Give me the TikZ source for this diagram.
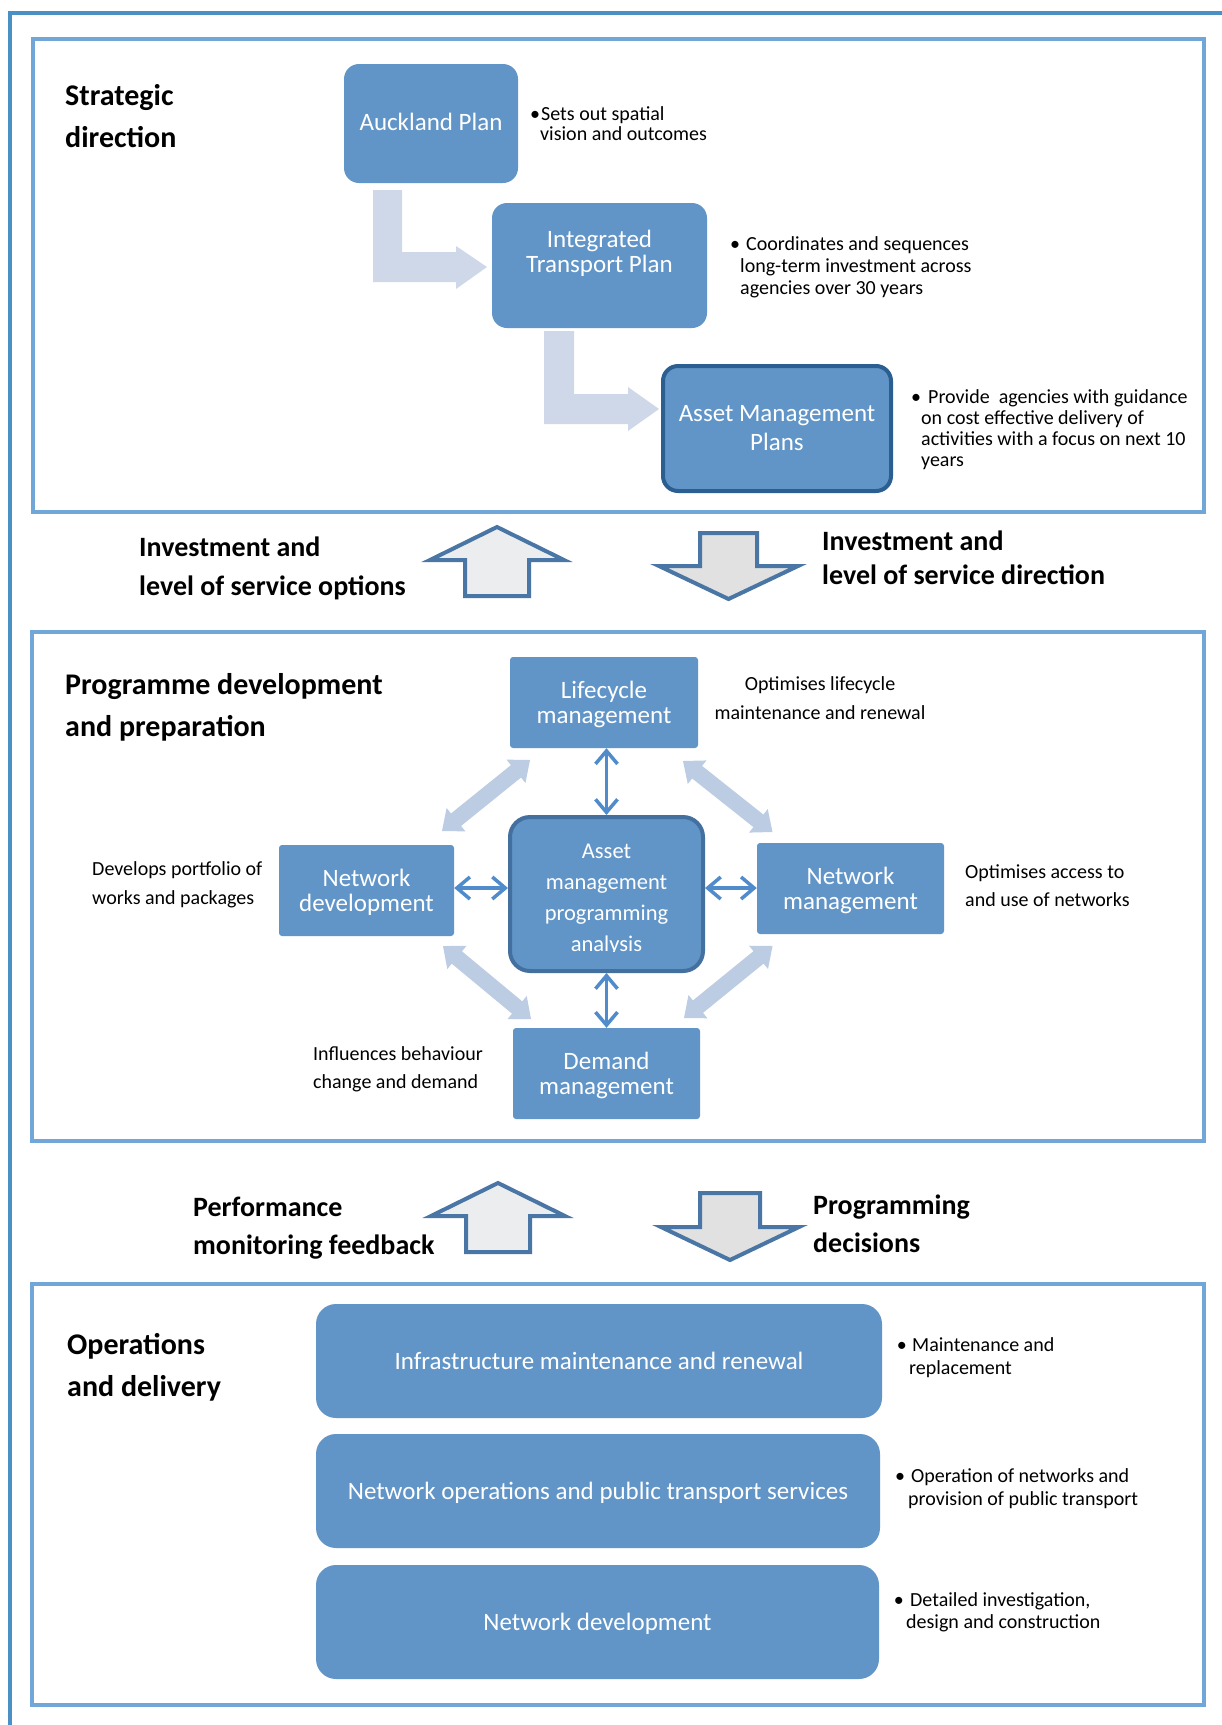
\documentclass[tikz,border=0pt]{standalone}
\usepackage{fontspec}
\setmainfont{Carlito}
\usetikzlibrary{arrows.meta,calc}

\definecolor{framedark}{RGB}{74,144,196}
\definecolor{framelight}{RGB}{112,166,216}
\definecolor{boxfill}{RGB}{97,149,200}
\definecolor{boxedge}{RGB}{44,95,145}
\definecolor{hubedge}{RGB}{68,112,160}
\definecolor{linkblue}{RGB}{80,139,204}
\definecolor{diagfill}{RGB}{188,204,227}
\definecolor{bendfill}{RGB}{207,216,232}
\definecolor{flowedge}{RGB}{74,118,166}
\definecolor{upfill}{RGB}{236,237,239}
\definecolor{downfill}{RGB}{225,225,225}

% bullet hanging to the left of the first line: #1 = bullet offset, #2 = gap to text
\newcommand\notebullet[2]{\hspace*{-#1pt}\makebox[0pt]{\textbullet}\hspace*{#2pt}}
% a line whose descenders do not count for vertical centring
\newcommand\nodepth[1]{\raisebox{0pt}[\height][0pt]{#1}}

% light double-headed block arrow between two tip points
\newcommand\pairarrow[2]{%
  \fill[diagfill] (#1)
    -- ($(#1)!18pt!(#2)!15pt!90:(#2)$)
    -- ($(#1)!18pt!(#2)!8pt!90:(#2)$)
    -- ($(#2)!18pt!(#1)!8pt!-90:(#1)$)
    -- ($(#2)!18pt!(#1)!15pt!-90:(#1)$)
    -- (#2)
    -- ($(#2)!18pt!(#1)!15pt!90:(#1)$)
    -- ($(#2)!18pt!(#1)!8pt!90:(#1)$)
    -- ($(#1)!18pt!(#2)!8pt!-90:(#2)$)
    -- ($(#1)!18pt!(#2)!15pt!-90:(#2)$)
    -- cycle;}

\begin{document}
\begin{tikzpicture}[x=1pt,y=-1pt,
  section/.style={draw=framelight, line width=4pt},
  bluebox/.style={fill=boxfill, text=white, inner sep=0pt, align=center,
    font=\fontsize{25}{25}\selectfont},
  boxtxt/.style={text=white, inner sep=0pt, align=center,
    font=\fontsize{25}{25}\selectfont},
  heading/.style={anchor=west, inner sep=0pt, align=left,
    font=\bfseries\fontsize{30}{42}\selectfont},
  flowlabel/.style={anchor=west, inner sep=0pt, align=left},
  note/.style={anchor=west, inner sep=0pt, align=left},
  link/.style={draw=linkblue, line width=3.5pt,
    {Straight Barb[length=13pt,width=22pt]}-{Straight Barb[length=13pt,width=22pt]}},
  flowarrow/.style={draw=flowedge, line width=4pt, line join=miter},
  bentshape/.style={fill=bendfill}
]
\useasboundingbox (0,0) rectangle (1222,1725);
\fill[white] (0,0) rectangle (1222,1725);

% outer page frame
\draw[framedark, line width=4.5pt, line join=miter] (10,1725) -- (10,13) -- (1222,13);

% three section frames
\draw[section] (33,39) rectangle (1204,511.5);
\draw[section] (32,631.5) rectangle (1204,1141);
\draw[section] (32,1283.5) rectangle (1204,1705);

% ---------------- Strategic direction ----------------
\node[heading] (h1) at (65,118.5) {\strut Strategic\\\strut direction};

\node[bluebox, minimum width=174pt, minimum height=119pt, rounded corners=15pt,
  text height=17pt, text depth=4pt]
  (ap) at (431,123.5) {Auckland Plan};
\node[bluebox, minimum width=215pt, minimum height=125pt, rounded corners=15pt,
  label={[boxtxt, yshift=12.5pt]center:{Integrated\\Transport Plan}}]
  (itp) at (599.5,265.5) {};
\node[bluebox, draw=boxedge, line width=4pt, minimum width=228pt, minimum height=125pt,
  rounded corners=15pt, font=\fontsize{25}{29}\selectfont]
  (amplans) at (777,428.5) {Asset Management\\Plans};

% bent arrows between the plans
\fill[bentshape] (373,190) -- (402,190) -- (402,252) -- (456,252) -- (456,246)
  -- (487,267) -- (456,289) -- (456,282) -- (373,282) -- cycle;
\fill[bentshape] (544,331) -- (574,331) -- (574,394) -- (628,394) -- (628,387)
  -- (659,409) -- (628,431) -- (628,424) -- (544,424) -- cycle;

\node[note, font=\fontsize{20}{20}\selectfont] (n1) at (540,126)
  {\strut\notebullet{5}{6}Sets out spatial\\\strut vision and outcomes};
\node[note, font=\fontsize{20}{22}\selectfont] (n2) at (740,268.5)
  {\strut\notebullet{5}{11}Coordinates and sequences\\\strut long-term investment across\\\strut agencies over 30 years};
\node[note, font=\fontsize{20}{21}\selectfont] (n3) at (921,430.5)
  {\strut\notebullet{5}{12}Provide~ agencies with guidance\\\strut on cost effective delivery of\\\strut activities with a focus on next 10\\\strut years};

% ---------------- flows between strategic and programme ----------------
\draw[flowarrow, fill=upfill] (465,596) -- (465,560) -- (430,560) -- (497,527)
  -- (564,560) -- (529,560) -- (529,596) -- cycle;
\draw[flowarrow, fill=downfill] (700,533) -- (757,533) -- (757,566) -- (798,566)
  -- (728.5,599) -- (659,566) -- (700,566) -- cycle;
\node[flowlabel, font=\bfseries\fontsize{28}{39}\selectfont] (f1) at (139,568.5)
  {\strut Investment and\\\strut level of service options};
\node[flowlabel, font=\bfseries\fontsize{28}{34}\selectfont] (f2) at (822,561)
  {\strut Investment and\\\strut level of service direction};

% ---------------- Programme development and preparation ----------------
\node[heading] (h2) at (65,707.5) {\strut Programme development\\\strut and preparation};

\node[bluebox, minimum width=188pt, minimum height=91pt, rounded corners=3pt]
  (lc) at (604,702.5) {Lifecycle\\\nodepth{management}};
\node[bluebox, draw=hubedge, line width=4pt, minimum width=193pt, minimum height=154pt,
  rounded corners=20pt] (hub) at (606.5,894) {};
\begin{scope}
  \clip (512,819) rectangle (701,951);
  \node[boxtxt, font=\fontsize{22.5}{31}\selectfont] (hubtxt) at (606.5,900)
    {Asset\\management\\programming\\analysis};
\end{scope}
\node[bluebox, minimum width=175pt, minimum height=91pt, rounded corners=3pt]
  (nd) at (366.5,890.5) {Network\\\nodepth{development}};
\node[bluebox, minimum width=187pt, minimum height=91pt, rounded corners=3pt]
  (nm) at (850.5,888.5) {Network\\\nodepth{management}};
\node[bluebox, minimum width=187pt, minimum height=91pt, rounded corners=3pt]
  (dm) at (606.5,1073.5) {Demand\\\nodepth{management}};

% links to the analysis hub
\draw[link] (hub.north |- lc.south) -- (hub.north);
\draw[link] (hub.south) -- (hub.south |- dm.north);
\draw[link] ([yshift=2.5pt]nd.east) -- ([yshift=2.5pt]nd.east -| hub.west);
\draw[link] ([yshift=6pt]hub.east) -- ([yshift=6pt]hub.east -| nm.west);

% light diagonal links around the hub
\coordinate (ula) at (442,831);   \coordinate (ulb) at (530,760);
\coordinate (ura) at (683,761);   \coordinate (urb) at (772.5,832);
\coordinate (lla) at (443,946);   \coordinate (llb) at (531,1019);
\coordinate (lra) at (772.5,946); \coordinate (lrb) at (684,1018);
\pairarrow{ula}{ulb}
\pairarrow{ura}{urb}
\pairarrow{lla}{llb}
\pairarrow{lra}{lrb}

\node[note, anchor=center, align=center, font=\fontsize{20}{29}\selectfont] (n4) at (820,699)
  {\strut Optimises lifecycle\\\strut maintenance and renewal};
\node[note, font=\fontsize{20}{29}\selectfont] (n5) at (92,884)
  {\strut Develops portfolio of\\\strut works and packages};
\node[note, font=\fontsize{20}{28}\selectfont] (n6) at (965,887)
  {\strut Optimises access to\\\strut and use of networks};
\node[note, font=\fontsize{20}{28}\selectfont] (n7) at (313,1068.5)
  {\strut Influences behaviour\\\strut change and demand};

% ---------------- flows between programme and operations ----------------
\draw[flowarrow, fill=upfill] (466,1252) -- (466,1216) -- (431,1216) -- (498,1183)
  -- (565,1216) -- (530,1216) -- (530,1252) -- cycle;
\draw[flowarrow, fill=downfill] (700,1193) -- (760,1193) -- (760,1227) -- (799,1227)
  -- (730,1260) -- (661,1227) -- (700,1227) -- cycle;
\node[flowlabel, font=\bfseries\fontsize{28}{38}\selectfont] (f3) at (193,1227.5)
  {\strut Performance\\\strut monitoring feedback};
\node[flowlabel, font=\bfseries\fontsize{28}{38}\selectfont] (f4) at (813,1226)
  {\strut Programming\\\strut decisions};

% ---------------- Operations and delivery ----------------
\node[heading] (h3) at (67,1367) {\strut Operations\\\strut and delivery};

\node[bluebox, minimum width=566pt, minimum height=114pt, rounded corners=20pt,
  text height=17pt, text depth=0pt]
  (ima) at (599,1361) {Infrastructure maintenance and renewal};
\node[bluebox, minimum width=564pt, minimum height=114pt, rounded corners=20pt,
  text height=17pt, text depth=0pt]
  (nops) at (598,1491) {Network operations and public transport services};
\node[bluebox, minimum width=563pt, minimum height=114pt, rounded corners=20pt,
  text height=17pt, text depth=0pt]
  (ndev) at (597.5,1622) {Network development};

\node[note, font=\fontsize{20}{23}\selectfont] (n8) at (909,1358.5)
  {\strut\notebullet{7.4}{10.4}Maintenance and\\\strut replacement};
\node[note, font=\fontsize{20}{23}\selectfont] (n9) at (908,1489.5)
  {\strut\notebullet{8}{11}Operation of networks and\\\strut provision of public transport};
\node[note, font=\fontsize{20}{22}\selectfont] (n10) at (906,1613.5)
  {\strut\notebullet{7.3}{11.3}Detailed investigation,\\\strut design and construction};

\end{tikzpicture}
\end{document}
